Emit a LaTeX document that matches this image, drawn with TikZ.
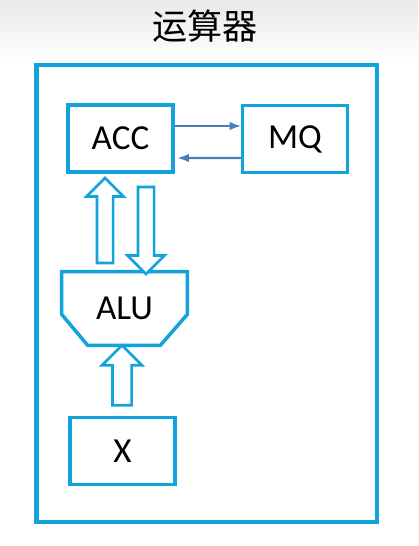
\documentclass[tikz,border=0pt]{standalone}
\usepackage{fontspec}
\setmainfont{Carlito}
\newfontfamily\cjk{Noto Sans CJK SC}
\usepackage{tikz}
\usetikzlibrary{shapes, shapes.arrows, positioning, calc}
\usepackage{xcolor}
\definecolor{frameblue}{HTML}{12A2DC}
\definecolor{linkblue}{HTML}{4A7EBB}
\definecolor{topgray}{HTML}{E9E9E9}

\tikzset{
  regbox/.style={rectangle, draw=frameblue, line width=2pt, inner sep=0pt,
    minimum width=2.1cm, minimum height=1.34cm, font=\fontsize{20}{24}\selectfont},
  busarrow/.style={single arrow, draw=frameblue, line width=1.5pt, fill=white,
    inner xsep=0pt, inner ysep=0.135cm, single arrow tip angle=90,
    single arrow head indent=0pt, single arrow head extend=0.21cm}
  ,link/.style={draw=linkblue, line width=1.2pt, -latex}
}

\begin{document}
\begin{tikzpicture}[x=0.02cm, y=-0.02cm]
    \useasboundingbox (0,0) rectangle (418,546);
    \shade[top color=topgray, bottom color=white] (0,0) rectangle (418,62);

    \node[font=\cjk\fontsize{20}{24}\selectfont] (title) at (205,26) {运算器};
    \draw[frameblue, line width=2.3pt] (36.5,65) rectangle (377,522);

    \node[regbox] (acc) at (120.5,138.5) {ACC};
    \node[regbox] (mq) at (295,139) {MQ};
    \node[regbox] (xreg) at (122.5,451) {X};

    % ALU body, flat top and cut corners below
    \node[minimum width=2.5cm, minimum height=1.46cm, inner sep=0pt,
      font=\fontsize{20}{24}\selectfont] (alu) at (124.5,308.5) {ALU};
    \draw[frameblue, line width=2pt]
      (alu.north west) -- ($(alu.south west)+(0,-31)$) -- ($(alu.south west)+(26,0)$)
      -- ($(alu.south east)+(-27,0)$) -- ($(alu.south east)+(0,-31)$) -- (alu.north east) -- cycle;

    \draw[link] ($(acc.east)+(0,-12.5)$) -- ($(mq.west)+(0,-13)$);
    \draw[link] ($(mq.west)+(0,19)$) -- ($(acc.east)+(3,19.5)$);

    \node[busarrow, rotate=90, minimum height=1.7cm] (accin) at (105,224.5) {};
    \node[busarrow, rotate=-90, minimum height=1.74cm] (accout) at (146,226.5) {};
    \node[busarrow, rotate=90, minimum height=1.2cm, inner ysep=0.165cm] (xin) at (122,380) {};
\end{tikzpicture}
\end{document}
